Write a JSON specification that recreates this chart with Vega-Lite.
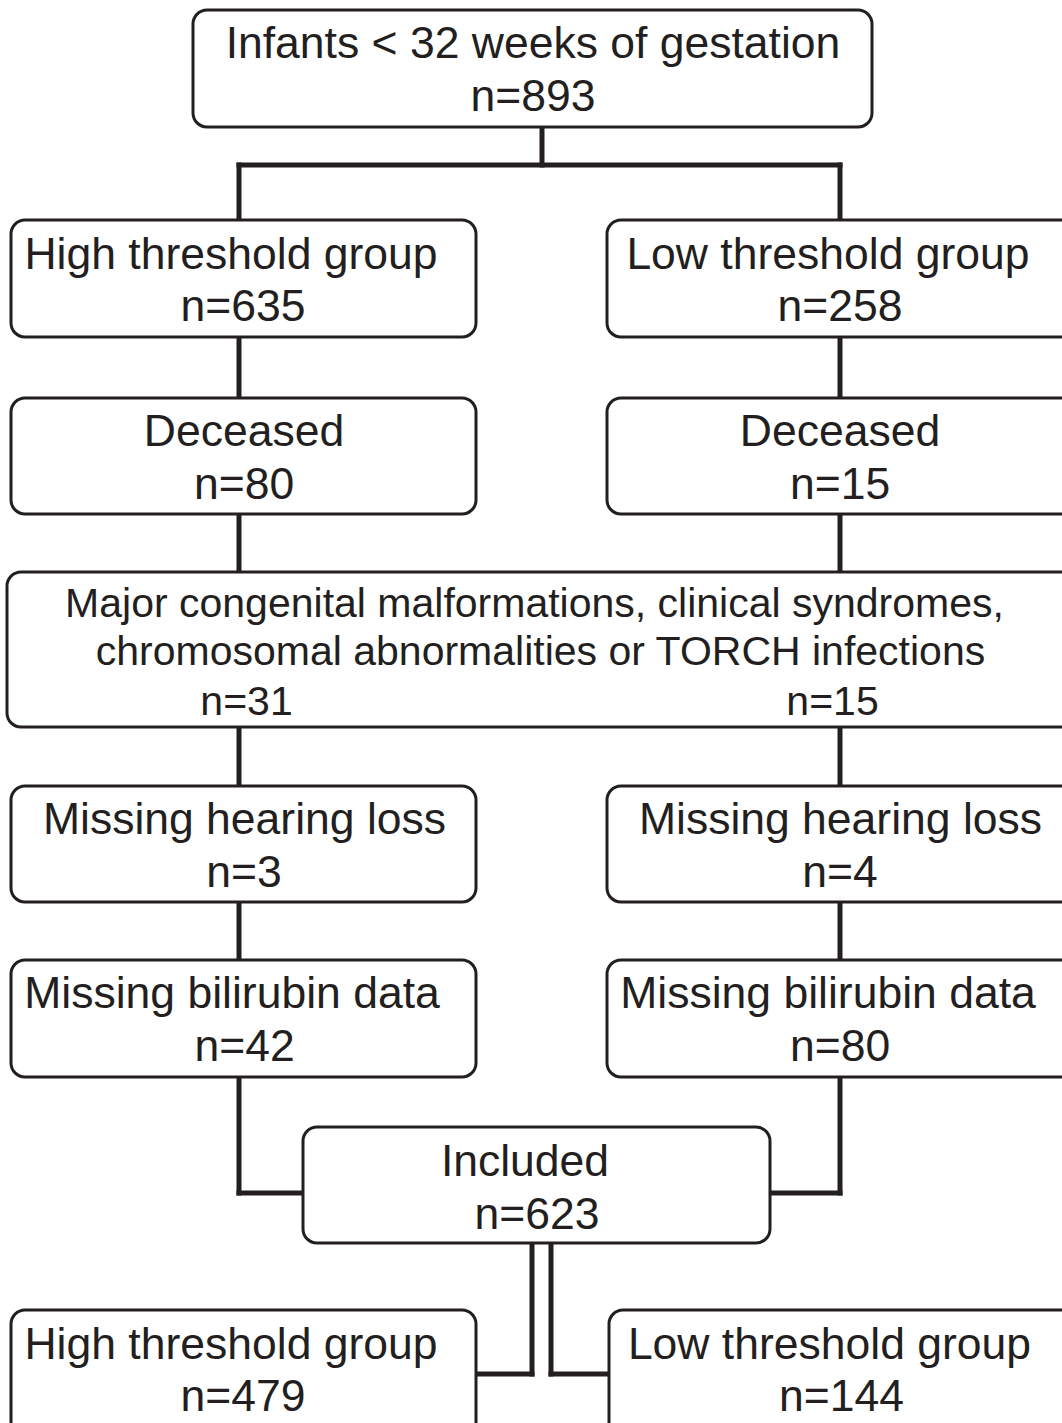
{
  "$schema": "https://vega.github.io/schema/vega-lite/v6.json",
  "width": 1062,
  "height": 1423,
  "autosize": {"type": "fit", "contains": "padding"},
  "padding": 0,
  "background": "white",
  "config": {"view": {"stroke": null}},
  "datasets": {
    "boxes": [
      {"x1": 193, "x2": 872, "y1": 10, "y2": 127},
      {"x1": 11, "x2": 476, "y1": 220, "y2": 337},
      {"x1": 607, "x2": 1080, "y1": 220, "y2": 337},
      {"x1": 11, "x2": 476, "y1": 398, "y2": 514},
      {"x1": 607, "x2": 1080, "y1": 398, "y2": 514},
      {"x1": 7, "x2": 1080, "y1": 572, "y2": 727},
      {"x1": 11, "x2": 476, "y1": 786, "y2": 902},
      {"x1": 607, "x2": 1080, "y1": 786, "y2": 902},
      {"x1": 11, "x2": 476, "y1": 960, "y2": 1077},
      {"x1": 607, "x2": 1080, "y1": 960, "y2": 1077},
      {"x1": 303, "x2": 770, "y1": 1127, "y2": 1243},
      {"x1": 11, "x2": 476, "y1": 1310, "y2": 1440},
      {"x1": 609, "x2": 1080, "y1": 1310, "y2": 1440}
    ],
    "links": [
      {"x1": 542, "x2": 542, "y1": 127, "y2": 165},
      {"x1": 239, "x2": 840, "y1": 165, "y2": 165},
      {"x1": 239, "x2": 239, "y1": 165, "y2": 220},
      {"x1": 840, "x2": 840, "y1": 165, "y2": 220},
      {"x1": 239, "x2": 239, "y1": 337, "y2": 398},
      {"x1": 840, "x2": 840, "y1": 337, "y2": 398},
      {"x1": 239, "x2": 239, "y1": 514, "y2": 572},
      {"x1": 840, "x2": 840, "y1": 514, "y2": 572},
      {"x1": 239, "x2": 239, "y1": 727, "y2": 786},
      {"x1": 840, "x2": 840, "y1": 727, "y2": 786},
      {"x1": 239, "x2": 239, "y1": 902, "y2": 960},
      {"x1": 840, "x2": 840, "y1": 902, "y2": 960},
      {"x1": 239, "x2": 239, "y1": 1077, "y2": 1193},
      {"x1": 840, "x2": 840, "y1": 1077, "y2": 1193},
      {"x1": 239, "x2": 303, "y1": 1193, "y2": 1193},
      {"x1": 770, "x2": 840, "y1": 1193, "y2": 1193},
      {"x1": 532, "x2": 532, "y1": 1243, "y2": 1374},
      {"x1": 551, "x2": 551, "y1": 1243, "y2": 1374},
      {"x1": 476, "x2": 532, "y1": 1374, "y2": 1374},
      {"x1": 551, "x2": 609, "y1": 1374, "y2": 1374}
    ],
    "labels": [
      {"tx": 533, "ty": 58, "label": "Infants < 32 weeks of gestation"},
      {"tx": 533, "ty": 111, "label": "n=893"},
      {"tx": 231, "ty": 269, "label": "High threshold group"},
      {"tx": 243, "ty": 321, "label": "n=635"},
      {"tx": 828, "ty": 269, "label": "Low threshold group"},
      {"tx": 840, "ty": 321, "label": "n=258"},
      {"tx": 244, "ty": 446, "label": "Deceased"},
      {"tx": 244, "ty": 499, "label": "n=80"},
      {"tx": 840, "ty": 446, "label": "Deceased"},
      {"tx": 840, "ty": 499, "label": "n=15"},
      {"tx": 244.5, "ty": 834, "label": "Missing hearing loss"},
      {"tx": 244, "ty": 887, "label": "n=3"},
      {"tx": 840.5, "ty": 834, "label": "Missing hearing loss"},
      {"tx": 840, "ty": 887, "label": "n=4"},
      {"tx": 232, "ty": 1008, "label": "Missing bilirubin data"},
      {"tx": 244.5, "ty": 1061, "label": "n=42"},
      {"tx": 828, "ty": 1008, "label": "Missing bilirubin data"},
      {"tx": 840, "ty": 1061, "label": "n=80"},
      {"tx": 525, "ty": 1176, "label": "Included"},
      {"tx": 537, "ty": 1229, "label": "n=623"},
      {"tx": 231, "ty": 1359, "label": "High threshold group"},
      {"tx": 243, "ty": 1411, "label": "n=479"},
      {"tx": 829.5, "ty": 1359, "label": "Low threshold group"},
      {"tx": 841.5, "ty": 1411, "label": "n=144"}
    ],
    "majorLabels": [
      {"tx": 534.5, "ty": 617, "label": "Major congenital malformations, clinical syndromes,"},
      {"tx": 540.5, "ty": 665, "label": "chromosomal abnormalities or TORCH infections"},
      {"tx": 246.5, "ty": 715, "label": "n=31"},
      {"tx": 832.5, "ty": 715, "label": "n=15"}
    ]
  },
  "layer": [
    {
      "data": {"name": "links"},
      "mark": {"type": "rule", "stroke": "#231f20", "strokeWidth": 5, "strokeCap": "square"},
      "encoding": {
        "x": {"field": "x1", "type": "quantitative", "scale": {"domain": [0, 1062], "nice": false, "zero": false}, "axis": null},
        "x2": {"field": "x2"},
        "y": {"field": "y1", "type": "quantitative", "scale": {"domain": [0, 1423], "nice": false, "zero": false, "reverse": true}, "axis": null},
        "y2": {"field": "y2"}
      }
    },
    {
      "data": {"name": "boxes"},
      "mark": {"type": "rect", "fill": "white", "stroke": "#231f20", "strokeWidth": 3, "cornerRadius": 14, "clip": true},
      "encoding": {
        "x": {"field": "x1", "type": "quantitative"},
        "x2": {"field": "x2"},
        "y": {"field": "y1", "type": "quantitative"},
        "y2": {"field": "y2"}
      }
    },
    {
      "data": {"name": "labels"},
      "mark": {"type": "text", "font": "Liberation Sans", "fontSize": 44.5, "fill": "#231f20", "align": "center", "baseline": "alphabetic"},
      "encoding": {
        "x": {"field": "tx", "type": "quantitative"},
        "y": {"field": "ty", "type": "quantitative"},
        "text": {"field": "label", "type": "nominal"}
      }
    },
    {
      "data": {"name": "majorLabels"},
      "mark": {"type": "text", "font": "Liberation Sans", "fontSize": 41, "fill": "#231f20", "align": "center", "baseline": "alphabetic"},
      "encoding": {
        "x": {"field": "tx", "type": "quantitative"},
        "y": {"field": "ty", "type": "quantitative"},
        "text": {"field": "label", "type": "nominal"}
      }
    }
  ]
}
